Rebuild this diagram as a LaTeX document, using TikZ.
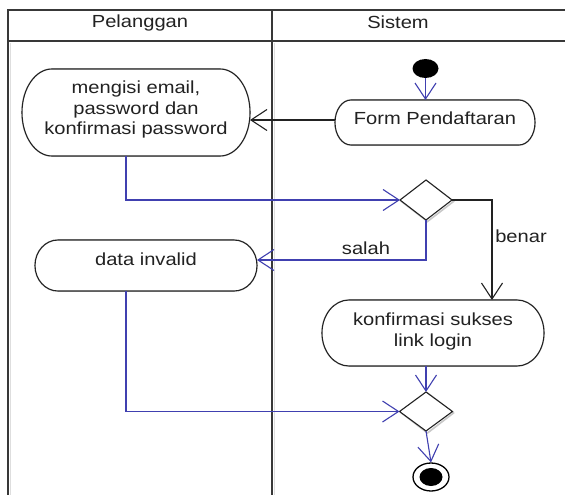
\documentclass[tikz,border=0pt]{standalone}
\usepackage{fontspec}
\setmainfont{Liberation Sans}[FakeStretch=1.15]
\usetikzlibrary{arrows.meta,calc,shapes.geometric}
\definecolor{flowblue}{RGB}{64,64,176}
\definecolor{ink}{RGB}{34,34,34}
\definecolor{shade}{RGB}{200,200,200}

% activity outline with elliptical ends, drawn around an (empty) node
\newcommand\pill[2]{%
  \path[boxshade, shift={(1.5pt,-1.5pt)}] let \p1=(#1.north west), \p2=(#1.south east), \n1={(\y1-\y2)/2} in
    (\x1+#2,\y1) -- (\x2-#2,\y1) arc[start angle=90, end angle=-90, x radius=#2, y radius=\n1]
    -- (\x1+#2,\y2) arc[start angle=270, end angle=90, x radius=#2, y radius=\n1] -- cycle;
  \path[boxline] let \p1=(#1.north west), \p2=(#1.south east), \n1={(\y1-\y2)/2} in
    (\x1+#2,\y1) -- (\x2-#2,\y1) arc[start angle=90, end angle=-90, x radius=#2, y radius=\n1]
    -- (\x1+#2,\y2) arc[start angle=270, end angle=90, x radius=#2, y radius=\n1] -- cycle;}

\begin{document}
\begin{tikzpicture}[x=1pt,y=-1pt,
  font=\fontsize{17.5}{20.5}\selectfont,
  lane/.style={draw=ink!90, line width=1.5pt},
  boxline/.style={draw=ink, line width=1.1pt, fill=white},
  boxshade/.style={draw=shade, line width=1.6pt},
  outline/.style={inner sep=0pt, outer sep=0pt},
  txt/.style={inner sep=0pt, text=ink, align=center},
  decision/.style={diamond, draw=ink, line width=1.1pt, fill=white, inner sep=0pt, outer sep=0pt,
    minimum width=52pt, minimum height=40pt},
  barb/.style={-{Straight Barb[length=16pt,width=21pt,line width=1.1pt]}},
  flow/.style={draw=flowblue, line width=1.1pt, barb},
  ctrl/.style={draw=ink, line width=1.1pt, barb},
]
\useasboundingbox (0,0) rectangle (565,495);
\fill[white] (0,0) rectangle (565,495);

% swimlanes
\draw[shade!60, line width=1pt] (10,500) -- (10,43) (274,500) -- (274,43);
\draw[lane] (8,500) -- (8,10) -- (570,10);
\draw[lane] (8,41) -- (570,41);
\draw[lane] (272,10) -- (272,500);
\node[txt] (lane1) at (140,23) {Pelanggan};
\node[txt] (lane2) at (398,22.5) {Sistem};

% activities
\node[outline, minimum width=228pt, minimum height=87pt] (mengisi) at (136,112.5) {};
\node[outline, minimum width=200pt, minimum height=45pt] (form) at (435,122.5) {};
\node[outline, minimum width=222pt, minimum height=51pt] (dinv) at (146,265.5) {};
\node[outline, minimum width=222pt, minimum height=66pt] (konf) at (433,333) {};
\pill{mengisi}{30pt}
\pill{form}{16pt}
\pill{dinv}{23pt}
\pill{konf}{27pt}
\node[txt] (mengisi-t) at (136,109.5) {mengisi email,\\password dan\\konfirmasi password};
\node[txt] (form-t) at (435,118) {Form Pendaftaran};
\node[txt] (dinv-t) at (146,259) {data invalid};
\node[txt] (konf-t) at (433,331.5) {konfirmasi sukses\\link login};

% decisions
\node[decision, draw=shade, line width=1.6pt, xshift=1.5pt, yshift=-1.5pt] (d1s) at (426,200) {};
\node[decision] (d1) at (426,200) {};
\node[decision, draw=shade, line width=1.6pt, xshift=1.5pt, yshift=-1.5pt] (d2s) at (426,411.5) {};
\node[decision, minimum height=39pt, minimum width=53pt] (d2) at (426,411.5) {};

% initial and final states
\node[ellipse, fill=black, minimum width=26pt, minimum height=19pt, inner sep=0pt] (start) at (425.5,68.5) {};
\node[ellipse, draw=black, line width=1.3pt, fill=white, minimum width=36pt, minimum height=28pt, inner sep=0pt] (endo) at (431,477) {};
\node[ellipse, fill=black, minimum width=23pt, minimum height=18pt, inner sep=0pt] (endi) at (431,477) {};

% transitions
\draw[flow] (start) -- (start |- form.north);
\draw[ctrl] ([yshift=2.5pt]form.west) -- ([yshift=2.5pt]form.west -| mengisi.east);
\draw[flow] ([xshift=-10pt]mengisi.south) |- (d1.west);
\draw[ctrl] (d1.east) -| ([xshift=59pt]konf.north);
\draw[flow] (d1.south) |- ([yshift=5.5pt]dinv.east);
\draw[flow] ([xshift=-20pt]dinv.south) |- (d2.west);
\draw[flow] (d2.north |- konf.south) -- (d2.north);
\draw[flow] (d2.south) -- (endo.north);

% guards
\node[txt] (salah) at (366,248.5) {salah};
\node[txt] (benar) at (521,236) {benar};
\end{tikzpicture}
\end{document}
